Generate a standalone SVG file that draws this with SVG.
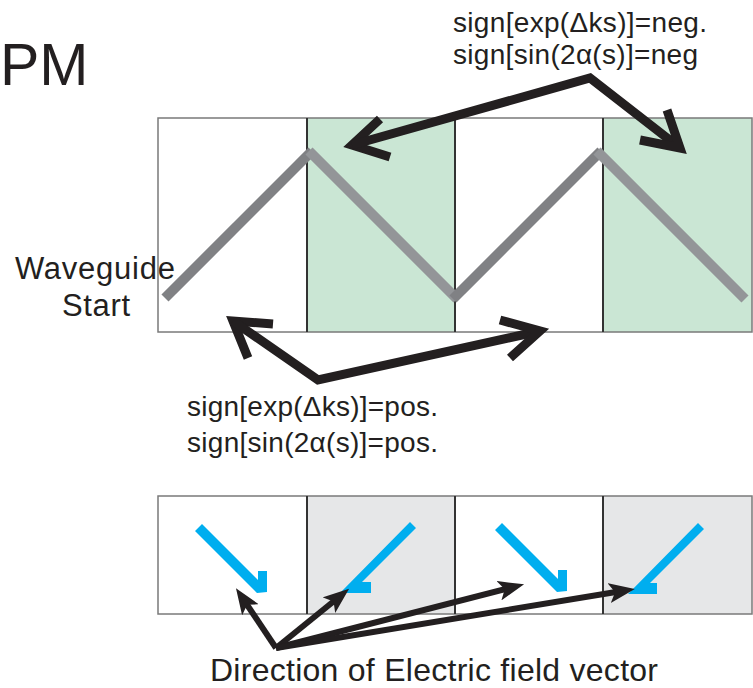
<svg xmlns="http://www.w3.org/2000/svg" width="753" height="688" viewBox="0 0 753 688">
<defs>
<style>
.t{font-family:"Liberation Sans",Arial,Helvetica,sans-serif;fill:#231f20;}
.fr{fill:none;stroke:#7a7a7a;stroke-width:1.5;}
.dv{stroke:#333;stroke-width:2;}
.big{fill:none;stroke:#231f20;stroke-width:9;stroke-linejoin:miter;stroke-miterlimit:10;stroke-linecap:butt;}
.thin{fill:none;stroke:#231f20;stroke-width:6;marker-end:url(#ah);}
.ef{fill:#00aeef;}
</style>
<marker id="ah" markerUnits="userSpaceOnUse" markerWidth="26" markerHeight="20" refX="13" refY="10" orient="auto" viewBox="0 0 26 20">
<path d="M0,0 L26,10 L0,20 L6,10 Z" fill="#231f20"/>
</marker>
</defs>

<text class="t" x="0" y="85" font-size="59">PM</text>

<g id="top-strip">
<rect x="307" y="118" width="148" height="214" fill="#cae6d4"/>
<rect x="603" y="118" width="149" height="214" fill="#cae6d4"/>
<rect class="fr" x="158" y="118" width="594" height="214"/>
<line class="dv" x1="307" y1="118" x2="307" y2="332"/>
<line class="dv" x1="455" y1="118" x2="455" y2="332"/>
<line class="dv" x1="603" y1="118" x2="603" y2="332"/>
</g>

<g id="waveguide-path" fill="none" stroke-width="10" stroke-linecap="butt">
<line x1="165" y1="298" x2="312" y2="151" stroke="#808184"/>
<line x1="309" y1="151" x2="457" y2="299" stroke="#939598"/>
<line x1="453" y1="299" x2="601" y2="151" stroke="#808184"/>
<line x1="597" y1="151" x2="745" y2="299" stroke="#939598"/>
</g>

<g id="waveguide-start">
<text class="t" x="95" y="279" font-size="31" text-anchor="middle" textLength="160">Waveguide</text>
<text class="t" x="96" y="316" font-size="31" text-anchor="middle" textLength="68">Start</text>
</g>

<g id="neg-label">
<text class="t" x="453" y="32" font-size="28" textLength="254">sign[exp(Δks)]=neg.</text>
<text class="t" x="453" y="64" font-size="28" textLength="245">sign[sin(2α(s)]=neg</text>
</g>

<g id="pos-label">
<text class="t" x="187" y="416" font-size="28" textLength="251">sign[exp(Δks)]=pos.</text>
<text class="t" x="187" y="452" font-size="28" textLength="251">sign[sin(2α(s)]=pos.</text>
</g>

<g id="bottom-strip">
<rect x="307" y="496" width="148" height="118" fill="#e6e7e8"/>
<rect x="603" y="496" width="149" height="118" fill="#e6e7e8"/>
<rect class="fr" x="158" y="496" width="594" height="118"/>
<line class="dv" x1="307" y1="496" x2="307" y2="614"/>
<line class="dv" x1="455" y1="496" x2="455" y2="614"/>
<line class="dv" x1="603" y1="496" x2="603" y2="614"/>
</g>

<g id="e-vectors">
<polygon class="ef" points="202,524 258,580 258,571 267,571 267,592 257,593 195,531"/>
<polygon class="ef" points="410,522 416,528 362,582 371,582 371,593 340,593"/>
<polygon class="ef" transform="translate(300,-1)" points="202,524 258,580 258,571 267,571 267,592 257,593 195,531"/>
<polygon class="ef" transform="translate(288,1)" points="410,522 416,528 362,582 369,582 369,593 340,593"/>
</g>

<g id="connectors">
<polyline class="big" points="390,157 352,145 380,119"/>
<polyline class="big" points="352,145 590,78 680,148"/>
<polyline class="big" points="667,110 680,148 640,140"/>
<polyline class="big" points="273,324 233,321 248,358"/>
<polyline class="big" points="233,321 318,380 540,331"/>
<polyline class="big" points="500,320 540,331 510,358"/>
<line class="thin" x1="276" y1="648" x2="243.2" y2="599"/>
<line class="thin" x1="276" y1="648" x2="339" y2="597"/>
<line class="thin" x1="276" y1="648" x2="511.5" y2="587.5"/>
<line class="thin" x1="276" y1="648" x2="622" y2="591"/>
</g>

<text class="t" x="210" y="681" font-size="32" textLength="448">Direction of Electric field vector</text>
</svg>
